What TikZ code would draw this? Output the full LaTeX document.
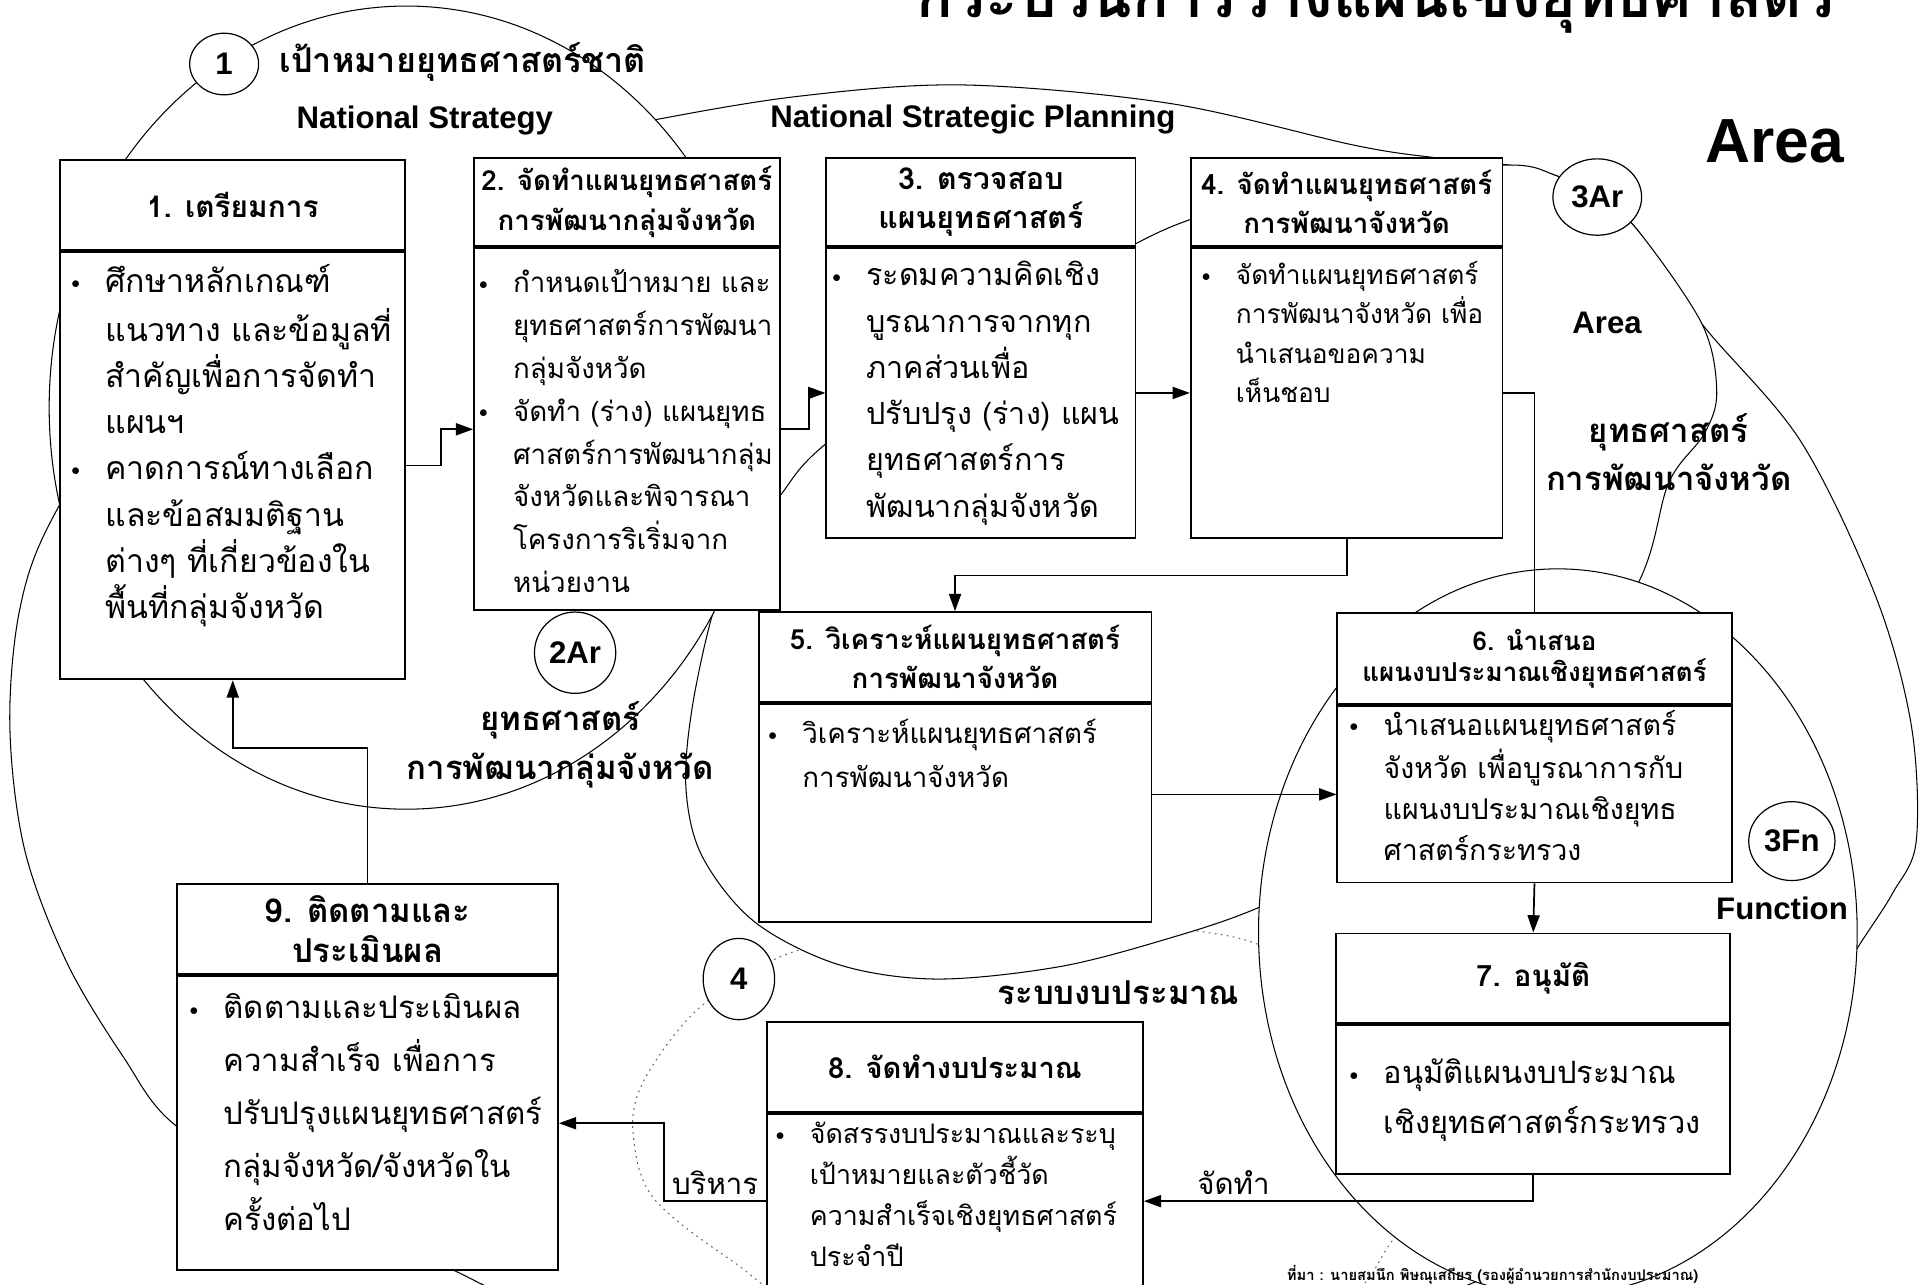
\documentclass[tikz,border=0pt]{standalone}
\usepackage{fontspec}
\newfontfamily\thai[Script=Thai]{Loma}
\newfontfamily\arial{Liberation Sans}
\usetikzlibrary{arrows.meta,positioning,shapes.geometric,calc}

\newcommand{\tfont}[2]{\thai\fontsize{#1}{#2}\selectfont}
\newcommand{\bul}{\strut\makebox[0.69cm][l]{\raisebox{0.12em}{\fontsize{10}{10}\selectfont$\bullet$}}}
\newcommand{\ind}{\hspace*{0.69cm}}

\begin{document}
\begin{tikzpicture}[x=0.025cm, y=-0.025cm,
  hdr/.style={draw, fill=white, line width=1.1pt, align=center, inner sep=0pt, font={\tfont{16}{22.8}\bfseries}},
  frame/.style={draw, fill=white, line width=1.1pt, anchor=north},
  btext/.style={anchor=north west, inner sep=0pt, align=left},
  zone/.style={draw, line width=0.6pt, fill=white},
  budget/.style={draw=black!60, dash pattern=on 1pt off 2.5pt},
  tag/.style={ellipse, draw, fill=white, line width=0.7pt, inner sep=0pt, font={\arial\bfseries\fontsize{18}{18}\selectfont}},
  lbl/.style={font={\tfont{19}{28}\bfseries}, align=center},
  eng/.style={font={\arial\bfseries\fontsize{18}{18}\selectfont}},
  arr/.style={line width=1pt, -{Triangle[length=10pt,width=7pt]}},
  conn/.style={line width=1pt},
]
\useasboundingbox (0,0) rectangle (1568,1043);
\clip (0,0) rectangle (1568,1043);

% National strategic planning zone
\draw[zone] plot[smooth cycle, tension=0.55] coordinates {(528,98) (650,78) (783,69) (950,84) (1100,118) (1165,128) (1225,134) (1262,142) (1297,160) (1329,186) (1382,263) (1462,358) (1523,484) (1552,589) (1556,683) (1537,725) (1510,767) (1470,830) (1350,950) (1200,1040) (1000,1100) (700,1110) (440,1058) (365,1030) (250,975) (144,915) (100,858) (54,781) (20,690) (8,590) (16,495) (43,420) (120,300) (250,190) (400,125)};
% Budget system zone (dotted)
\draw[zone, budget] plot[smooth cycle, tension=0.55] coordinates {(600,795) (654,770) (760,752) (880,748) (979,757) (1029,770) (1100,810) (1150,880) (1160,950) (1128,1011) (1080,1060) (900,1100) (700,1090) (596,1025) (530,972) (514,919) (522,879) (558,828)};
% Province area zone
\draw[zone] plot[smooth cycle, tension=0.55] coordinates {(1000,168) (1120,143) (1225,134) (1262,142) (1297,160) (1329,186) (1382,263) (1394,318) (1384,352) (1355,392) (1330,474) (1250,600) (1120,690) (1022,737) (949,762) (860,785) (760,795) (680,783) (612,748) (570,695) (557,640) (562,575) (580,494) (603,442) (633,403) (671,360) (800,265) (922,198) (967,178)};
% National strategy zone
\draw[zone] (330,331) ellipse [x radius=7.25cm, y radius=8.15cm];
% Function zone
\draw[zone] (1265,757) ellipse [x radius=6.075cm, y radius=7.375cm];

% Title and zone labels
\node[font={\tfont{35}{38}\bfseries}, anchor=base] (title) at (1117,14) {กระบวนการวางแผนเชิงยุทธศาสตร์};
\node[lbl, anchor=west, font={\tfont{19.7}{28}\bfseries}] (goal) at (222,50) {เป้าหมายยุทธศาสตร์ชาติ};
\node[eng] (ns) at (345,98) {National Strategy};
\node[eng] (nsp) at (790,97) {National Strategic Planning};
\node[font={\arial\bfseries\fontsize{36}{36}\selectfont}] (area) at (1441,115) {Area};
\node[eng] (area3) at (1305,262) {Area};
\node[lbl] (prov) at (1355,367) {ยุทธศาสตร์\\การพัฒนาจังหวัด};
\node[lbl] (grp) at (455,605) {ยุทธศาสตร์\\การพัฒนากลุ่มจังหวัด};
\node[eng] (func) at (1447,738) {Function};
\node[lbl] (bud) at (908,806) {ระบบงบประมาณ};
\node[font={\tfont{8.5}{10}\bfseries}, anchor=base west] (src) at (1040,1040) {ที่มา : นายสมนึก พิษณุเสถียร (รองผู้อำนวยการสำนักงบประมาณ)};

% Step 1
\node[hdr, minimum width=7cm, minimum height=1.825cm, font={\tfont{17.2}{22.8}\bfseries}] (h1) at (189,166.5) {1. เตรียมการ};
\node[frame, minimum width=7cm, minimum height=8.675cm] (b1) at (h1.south) {};
\node[btext, font={\tfont{18.5}{26.7}}] (t1) at ($(b1.north west)+(9.5,7.2)$) {\bul ศึกษาหลักเกณฑ์\\\ind แนวทาง และข้อมูลที่\\\ind สำคัญเพื่อการจัดทำ\\\ind แผนฯ\\\bul คาดการณ์ทางเลือก\\\ind และข้อสมมติฐาน\\\ind ต่างๆ ที่เกี่ยวข้องใน\\\ind พื้นที่กลุ่มจังหวัด};
% Step 2
\node[hdr, minimum width=6.2cm, minimum height=1.8cm] (h2) at (509,164) {2. จัดทำแผนยุทธศาสตร์\\การพัฒนากลุ่มจังหวัด};
\node[frame, minimum width=6.2cm, minimum height=7.35cm] (b2) at (h2.south) {};
\node[btext, font={\tfont{16}{24.7}}] (t2) at ($(b2.north west)+(4.5,12.5)$) {\bul กำหนดเป้าหมาย และ\\\ind ยุทธศาสตร์การพัฒนา\\\ind กลุ่มจังหวัด\\\bul จัดทำ (ร่าง) แผนยุทธ\\\ind ศาสตร์การพัฒนากลุ่ม\\\ind จังหวัดและพิจารณา\\\ind โครงการริเริ่มจาก\\\ind หน่วยงาน};
% Step 3
\node[hdr, minimum width=6.275cm, minimum height=1.8cm, font={\tfont{17.5}{22.8}\bfseries}] (h3) at (796.5,164) {3. ตรวจสอบ\\แผนยุทธศาสตร์};
\node[frame, minimum width=6.275cm, minimum height=5.875cm] (b3) at (h3.south) {};
\node[btext, font={\tfont{17.6}{26.7}}] (t3) at ($(b3.north west)+(5.5,4.8)$) {\bul ระดมความคิดเชิง\\\ind บูรณาการจากทุก\\\ind ภาคส่วนเพื่อ\\\ind ปรับปรุง (ร่าง) แผน\\\ind ยุทธศาสตร์การ\\\ind พัฒนากลุ่มจังหวัด};
% Step 4
\node[hdr, minimum width=6.325cm, minimum height=1.8cm] (h4) at (1093.5,164) {4. จัดทำแผนยุทธศาสตร์\\การพัฒนาจังหวัด};
\node[frame, minimum width=6.325cm, minimum height=5.875cm] (b4) at (h4.south) {};
\node[btext, font={\tfont{15.2}{22.8}}] (t4) at ($(b4.north west)+(9.5,7.5)$) {\bul จัดทำแผนยุทธศาสตร์\\\ind การพัฒนาจังหวัด เพื่อ\\\ind นำเสนอขอความ\\\ind เห็นชอบ};
% Step 5
\node[hdr, minimum width=7.975cm, minimum height=1.825cm] (h5) at (775.5,533.5) {5. วิเคราะห์แผนยุทธศาสตร์\\การพัฒนาจังหวัด};
\node[frame, minimum width=7.975cm, minimum height=4.425cm] (b5) at (h5.south) {};
\node[btext, font={\tfont{16}{25.6}}] (t5) at ($(b5.north west)+(8.5,7.4)$) {\bul วิเคราะห์แผนยุทธศาสตร์\\\ind การพัฒนาจังหวัด};
% Step 6
\node[hdr, minimum width=8cm, minimum height=1.85cm, font={\tfont{15}{17.8}\bfseries}] (h6) at (1246,535) {6. นำเสนอ\\แผนงบประมาณเชิงยุทธศาสตร์};
\node[frame, minimum width=8cm, minimum height=3.575cm] (b6) at (h6.south) {};
\node[btext, font={\tfont{16.5}{23.7}}] (t6) at ($(b6.north west)+(10.5,0.5)$) {\bul นำเสนอแผนยุทธศาสตร์\\\ind จังหวัด เพื่อบูรณาการกับ\\\ind แผนงบประมาณเชิงยุทธ\\\ind ศาสตร์กระทรวง};
% Step 7
\node[hdr, minimum width=8cm, minimum height=1.825cm, font={\tfont{17}{22.8}\bfseries}] (h7) at (1245,794.5) {7. อนุมัติ};
\node[frame, minimum width=8cm, minimum height=3.025cm] (b7) at (h7.south) {};
\node[btext, font={\tfont{17.8}{28.5}}] (t7) at ($(b7.north west)+(11.5,20.1)$) {\bul อนุมัติแผนงบประมาณ\\\ind เชิงยุทธศาสตร์กระทรวง};
% Step 8
\node[hdr, minimum width=7.625cm, minimum height=1.825cm, font={\tfont{16.8}{22.8}\bfseries}] (h8) at (775.5,866.5) {8. จัดทำงบประมาณ};
\node[frame, minimum width=7.625cm, minimum height=4.175cm] (b8) at (h8.south) {};
\node[btext, font={\tfont{15.5}{23.7}}] (t8) at ($(b8.north west)+(7.5,1.2)$) {\bul จัดสรรงบประมาณและระบุ\\\ind เป้าหมายและตัวชี้วัด\\\ind ความสำเร็จเชิงยุทธศาสตร์\\\ind ประจำปี};
% Step 9
\node[hdr, minimum width=7.725cm, minimum height=1.825cm, font={\tfont{19}{23.5}\bfseries}] (h9) at (298.5,754.5) {9. ติดตามและ\\ประเมินผล};
\node[frame, minimum width=7.725cm, minimum height=5.975cm] (b9) at (h9.south) {};
\node[btext, font={\tfont{18}{30.6}}] (t9) at ($(b9.north west)+(10.5,5.2)$) {\bul ติดตามและประเมินผล\\\ind ความสำเร็จ เพื่อการ\\\ind ปรับปรุงแผนยุทธศาสตร์\\\ind กลุ่มจังหวัด/จังหวัดใน\\\ind ครั้งต่อไป};

% Zone tags
\node[tag, minimum width=1.4cm, minimum height=1.25cm] (c1) at (182,52) {1};
\node[tag, minimum width=1.65cm, minimum height=1.65cm] (c2) at (467,530) {2Ar};
\node[tag, minimum width=1.8cm, minimum height=1.55cm] (c3) at (1297,160) {3Ar};
\node[tag, minimum width=1.75cm, minimum height=1.6cm] (c3f) at (1455,683) {3Fn};
\node[tag, minimum width=1.45cm, minimum height=1.65cm] (c4) at (600,795) {4};

% Flow
\draw[arr] (b1.east) -- ++(28,0) |- (b2.west);
\draw[arr] (b2.east) -- ++(23,0) |- (b3.west);
\draw[arr] (b3.east) -- (b4.west);
\draw[arr] (b4.south) -- ++(0,30) -| (h5.north);
\draw[conn] (b4.east) -| (h6.north);
\draw[arr] (b5.east |- b6.west) -- (b6.west);
\draw[arr] (b6.south) -- (h7.north);
\draw[arr] (b7.south) -- ++(0,21) coordinate (k7) -- node[pos=0.77, above, font={\tfont{17}{20}}] (l7) {จัดทำ} (k7 -| b8.east);
\draw[arr] (b8.west |- k7) -- node[above, font={\tfont{17}{20}}] (l8) {บริหาร} ++(-83,0) |- (b9.east);
\draw[arr] (h9.north) -- ++(0,-110) -| (b1.south);
\end{tikzpicture}
\end{document}
